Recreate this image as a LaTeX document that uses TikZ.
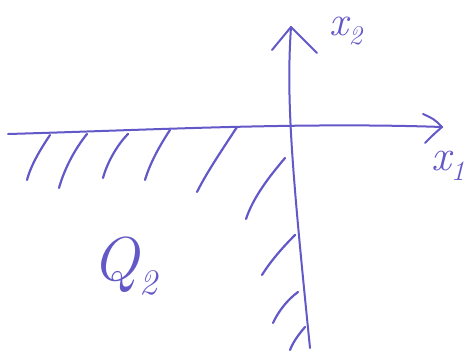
\documentclass[tikz,border=0pt]{standalone}
\usepackage{tikz}
\definecolor{ink}{RGB}{98,88,200}
\newcommand{\lowsub}[2]{\raisebox{-0.22em}{\fontsize{#1}{#1}\selectfont #2}}
\begin{document}
\begin{tikzpicture}[x=1pt,y=-1pt,
  pen/.style={draw=ink,line width=2pt,line cap=round,line join=round},
  hatch/.style={pen,line width=2.2pt},
  lbl/.style={text=ink,inner sep=0pt}]
\useasboundingbox (0,0) rectangle (468,359);
% axis end points
\coordinate (hL) at (8,134);
\coordinate (hR) at (442,127);
\coordinate (vT) at (291,27);
\coordinate (vB) at (310,348);
% horizontal axis
\draw[pen] (hL) .. controls (150,130) and (300,122) .. (hR);
\draw[pen] (423,114) .. controls (434,119) .. (hR) .. controls (434,134) .. (425,143);
% vertical axis
\draw[pen] (vT) .. controls (286,100) and (292,170) .. (vB);
\draw[pen] (272,50) -- (vT) -- (317,53);
% hatches under horizontal axis
\draw[hatch] (50,135) .. controls (40,150) and (31,165) .. (27,180);
\draw[hatch] (87,134) .. controls (74,150) and (64,170) .. (59,188);
\draw[hatch] (128,134) .. controls (117,145) and (107,163) .. (103,178);
\draw[hatch] (170,130) .. controls (160,145) and (150,163) .. (145,180);
\draw[hatch] (237,127) .. controls (222,150) and (207,172) .. (197,192);
% hatches left of vertical axis
\draw[hatch] (285,158) .. controls (268,178) and (253,198) .. (246,219);
\draw[hatch] (295,235) .. controls (282,248) and (270,262) .. (262,275);
\draw[hatch] (298,292) .. controls (287,300) and (278,312) .. (273,323);
\draw[hatch] (305,327) .. controls (299,334) and (293,342) .. (290,350);
% labels
\node[lbl,font=\fontsize{42}{46}\selectfont\itshape] (x2) at (346,31) {x\lowsub{27}{2}};
\node[lbl,font=\fontsize{44}{48}\selectfont\itshape] (x1) at (448,166) {x\lowsub{28}{1}};
\node[lbl,font=\fontsize{62}{66}\selectfont\itshape] (q2) at (125,266) {Q\lowsub{36}{2}};
\end{tikzpicture}
\end{document}
